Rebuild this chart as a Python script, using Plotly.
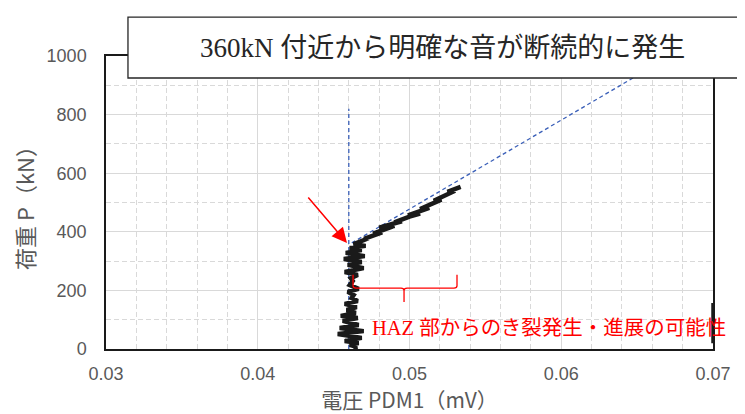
import plotly.graph_objects as go

# ---- data ----
# PDM1 voltage (mV) / load P (kN) measured curve
pdm1_mv = [0.04632, 0.04652, 0.04606, 0.04665, 0.04573, 0.04685, 0.04527, 0.04698, 0.04540,
           0.04665, 0.04560, 0.04659, 0.04547, 0.04646, 0.04586, 0.04652, 0.04573, 0.04659,
           0.04619, 0.04632, 0.04593, 0.04665, 0.04606, 0.04626, 0.04613, 0.04659, 0.04573,
           0.04698, 0.04593, 0.04685, 0.04567, 0.04705, 0.04580, 0.04685, 0.04606, 0.04711,
           0.04632,
           0.04680, 0.04730, 0.04700, 0.04770, 0.04820, 0.04760, 0.04850, 0.04900, 0.04800,
           0.04870, 0.04950, 0.04900, 0.05000, 0.05070, 0.04990, 0.05060, 0.05130, 0.05070,
           0.05160, 0.05210, 0.05160, 0.05240, 0.05300, 0.05250, 0.05337]
load_kn = [0, 7, 14, 20, 27, 38, 51, 61, 72, 82, 96, 106, 113, 123, 133, 143, 154, 164,
           174, 184, 195, 205, 218, 232, 242, 253, 263, 276, 287, 297, 307, 317, 328, 338,
           345, 352, 358,
           366, 378, 376, 388, 398, 394, 410, 420, 414,
           424, 436, 432, 452, 462, 456, 470, 482, 478,
           498, 510, 506, 524, 540, 536, 553]
# second series segment seen at the right frame
edge_x = [0.07, 0.07]
edge_y = [20, 157]
# guide lines (dashed blue)
vguide_x = [0.046, 0.046]
vguide_y = [0, 820]
sguide_x = [0.0462, 0.0672]
sguide_y = [362, 1000]

x_ticks = [0.03, 0.04, 0.05, 0.06, 0.07]
y_ticks = [0, 200, 400, 600, 800, 1000]

title_text = "360kN 付近から明確な音が断続的に発生"
note_text = "HAZ 部からのき裂発生・進展の可能性"
x_title = "電圧 PDM1（mV）"
y_title = "荷重 P（kN）"

# annotation anchors (data units)
arrow_tip = (0.04588, 362)
note_pos = (0.0474, 72)
brace_x = (0.04628, 0.04964, 0.05313)
brace_y = (253, 208, 160)

guide_line = dict(color="#3A5FB8", width=1.3, dash="4px,3px")

fig = go.Figure()
fig.add_trace(go.Scatter(x=vguide_x, y=vguide_y, mode="lines", line=guide_line,
                         showlegend=False))
fig.add_trace(go.Scatter(x=sguide_x, y=sguide_y, mode="lines", line=guide_line,
                         showlegend=False))
fig.add_trace(go.Scatter(x=pdm1_mv, y=load_kn, mode="lines",
                         line=dict(color="#1a1a1a", width=4.5), showlegend=False))
fig.add_trace(go.Scatter(x=edge_x, y=edge_y, mode="lines", cliponaxis=False,
                         line=dict(color="#1a1a1a", width=3.5), showlegend=False))

bl, bm, br = brace_x
bt, bh, bb = brace_y
d = 0.0002
dy = 8
brace_path = (f"M {bl},{bt} L {bl},{bh+dy} Q {bl},{bh} {bl+d},{bh} L {bm-d},{bh} "
              f"Q {bm},{bh} {bm},{bh-dy} L {bm},{bb} L {bm},{bh-dy} Q {bm},{bh} {bm+d},{bh} "
              f"L {br-d},{bh} Q {br},{bh} {br},{bh+dy} L {br},{bt}")
fig.add_shape(type="path", path=brace_path, xref="x", yref="y",
              line=dict(color="#FF0000", width=1.3))

# title box
fig.add_shape(type="rect", xref="paper", yref="paper", x0=0.0362, x1=1.12, y0=0.925, y1=1.133,
              fillcolor="white", line=dict(color="#262626", width=1.3), layer="above")
fig.add_annotation(xref="paper", yref="paper", x=0.555, y=1.027, yanchor="middle",
                   text=title_text, showarrow=False,
                   font=dict(family="Liberation Serif, Noto Sans CJK JP", size=27,
                             color="#262626"))
fig.add_annotation(x=arrow_tip[0], y=arrow_tip[1], ax=-40, ay=-47, text="",
                   showarrow=True, arrowhead=2, arrowsize=2, arrowwidth=1.5,
                   arrowcolor="#FF0000")
fig.add_annotation(x=note_pos[0], y=note_pos[1], text=note_text, showarrow=False,
                   xanchor="left", font=dict(family="Liberation Serif, Noto Sans CJK JP",
                                             size=20.5, color="#FF0000"))

axis_common = dict(showline=True, linecolor="#1a1a1a", linewidth=1.5, mirror=True,
                   gridcolor="#D9D9D9", gridwidth=1, zeroline=False, ticks="",
                   tickfont=dict(family="Liberation Sans, Arial", size=18, color="#595959"))
fig.update_xaxes(range=[0.03, 0.07], tickvals=x_ticks, ticktext=[f"{v:.2f}" for v in x_ticks],
                 ticklabelstandoff=8,
                 minor=dict(dtick=0.002, tick0=0.03, showgrid=True, gridcolor="#D9D9D9",
                            griddash="5px,3px", gridwidth=1),
                 title=dict(text=x_title, font=dict(family="Noto Sans CJK JP", size=21,
                                                    color="#595959"), standoff=9),
                 **axis_common)
fig.update_yaxes(range=[0, 1000], tickvals=y_ticks, ticklabelstandoff=14,
                 minor=dict(dtick=100, tick0=0, showgrid=True, gridcolor="#D9D9D9",
                            griddash="5px,3px", gridwidth=1),
                 title=dict(text=y_title, font=dict(family="Noto Sans CJK JP", size=22,
                                                    color="#595959"), standoff=10),
                 **axis_common)

fig.update_layout(width=745, height=414, margin=dict(l=98, r=40, t=48, b=73),
                  plot_bgcolor="white", paper_bgcolor="white", showlegend=False)
fig.write_html("out.html")
